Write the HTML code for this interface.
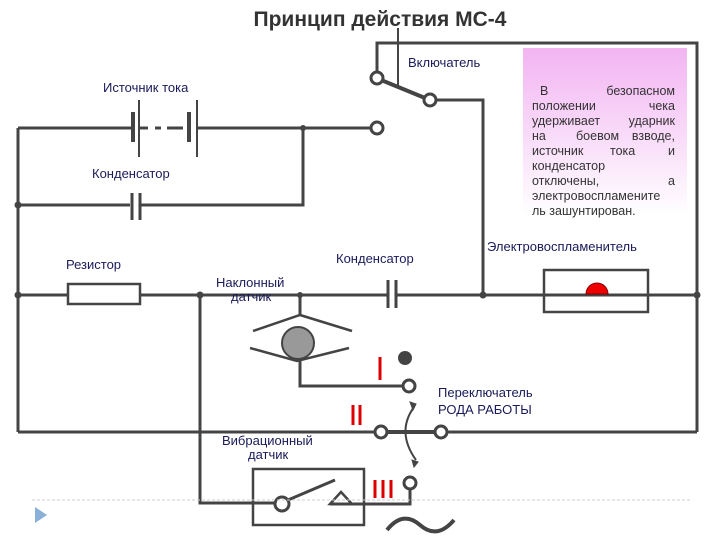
<!DOCTYPE html>
<html><head><meta charset="utf-8"><style>
body{margin:0;background:#fff;}
svg{display:block;font-family:"Liberation Sans",sans-serif;}
.w{stroke:#444;stroke-width:3;fill:none;}
.t{fill:#1a1a5a;font-size:13px;}
</style></head><body>
<svg width="720" height="540" viewBox="0 0 720 540">
<defs><linearGradient id="pg" x1="0" y1="0" x2="0" y2="1"><stop offset="0" stop-color="#f2b4f2"/><stop offset="1" stop-color="#fff"/></linearGradient></defs>
<rect x="523" y="48" width="164" height="168" fill="url(#pg)"/>
<text x="380" y="26" text-anchor="middle" font-size="21" font-weight="bold" fill="#333">Принцип действия МС-4</text>
<g class="w">
<path d="M377 72V43H697V432"/>
<path d="M398 28V86" stroke-width="2"/>
<path d="M381 80L425 98" stroke-width="4"/>
<path d="M436 100H483V295"/>
<path d="M18 128H133M139 128H148M155 128H161M167 128H183M197 128H371"/>
<path d="M303 128V205H140M130 205H18"/>
<path d="M18 128V432"/>
<path d="M18 295H68M140 295H388M396 295H697"/>
<rect x="68" y="284" width="72" height="20" stroke-width="2.5"/>
<rect x="544" y="270" width="104" height="42" stroke-width="2.5"/>
<path d="M200 295V503H276M300 295V315M300 361V386H403"/>
<path d="M18 432H375M447 432H697"/>
<path d="M387 432H435" stroke-width="4"/>
<rect x="253" y="469" width="111" height="56" stroke-width="2.5"/>
<path d="M288 500L335 480"/>
<path d="M330 504H410V489"/>
<path d="M253 331L300 315L352 331M250 348L297 361L349 348" stroke-width="2.5"/>
<path d="M414 407Q396 432 416 460" stroke-width="2"/>
<path d="M387 530Q403 510 420 525Q437 540 454 520" stroke-width="4"/>
</g>
<g stroke="#444" fill="none">
<path d="M133 112V142" stroke-width="4"/><path d="M139 100V157" stroke-width="2"/>
<path d="M189 112V142" stroke-width="4"/><path d="M197 100V157" stroke-width="2"/>
<path d="M132 193V220M140 193V220" stroke-width="3"/>
<path d="M388 280V308M396 280V308" stroke-width="3"/>
<path d="M330 504L341 492L352 504Z" stroke-width="2.5"/>
<path d="M410 402L416 404L413 410Z" fill="#444"/><path d="M418 462L412 460L414 467Z" fill="#444"/>
</g>
<g fill="#fff" stroke="#444" stroke-width="3">
<circle cx="377" cy="78" r="6"/><circle cx="430" cy="100" r="6"/><circle cx="377" cy="128" r="6"/>
<circle cx="409" cy="386" r="6"/><circle cx="381" cy="432" r="6"/><circle cx="441" cy="432" r="6"/>
<circle cx="282" cy="504" r="7"/><circle cx="410" cy="483" r="6"/>
</g>
<g fill="#444"><circle cx="303" cy="128" r="3"/><circle cx="18" cy="205" r="3.5"/><circle cx="18" cy="295" r="3.5"/><circle cx="200" cy="295" r="3.5"/><circle cx="300" cy="295" r="3"/><circle cx="483" cy="295" r="3.5"/><circle cx="697" cy="295" r="3.5"/><circle cx="405" cy="358" r="7"/></g>
<circle cx="298" cy="343" r="16" fill="#999" stroke="#444" stroke-width="2"/>
<path d="M586 294A11 11 0 0 1 608 294Z" fill="#e00" stroke="#800" stroke-width="1"/>
<line x1="32" y1="500" x2="690" y2="500" stroke="#ccc" stroke-width="1" stroke-dasharray="3 2"/>
<path d="M35 507L47 515L35 523Z" fill="#8ab0d8"/>
<g fill="#d00" stroke="#d00" stroke-width="3"><path d="M380 357V380M353 405V425M360 405V425M375 480V498M383 480V498M391 480V498"/></g>
<g class="t">
<text x="408" y="67">Включатель</text>
<text x="103" y="92">Источник тока</text>
<text x="92" y="178">Конденсатор</text>
<text x="66" y="269">Резистор</text>
<text x="336" y="263">Конденсатор</text>
<text x="216" y="287">Наклонный</text>
<text x="231" y="301">датчик</text>
<text x="487" y="251">Электровоспламенитель</text>
<text x="438" y="397">Переключатель</text>
<text x="438" y="414">РОДА РАБОТЫ</text>
<text x="222" y="445">Вибрационный</text>
<text x="248" y="459">датчик</text>
</g>
<g fill="#333" font-size="12.5">
<text x="540" y="95">В</text><text x="675" y="95" text-anchor="end">безопасном</text>
<text x="532" y="110">положении</text><text x="675" y="110" text-anchor="end">чека</text>
<text x="532" y="125">удерживает</text><text x="675" y="125" text-anchor="end">ударник</text>
<text x="532" y="140">на</text><text x="576" y="140">боевом</text><text x="675" y="140" text-anchor="end">взводе,</text>
<text x="532" y="155">источник</text><text x="610" y="155">тока</text><text x="675" y="155" text-anchor="end">и</text>
<text x="532" y="170">конденсатор</text>
<text x="532" y="185">отключены,</text><text x="675" y="185" text-anchor="end">а</text>
<text x="532" y="200">электровоспламените</text>
<text x="532" y="215">ль зашунтирован.</text>
</g>
</svg>
</body></html>
